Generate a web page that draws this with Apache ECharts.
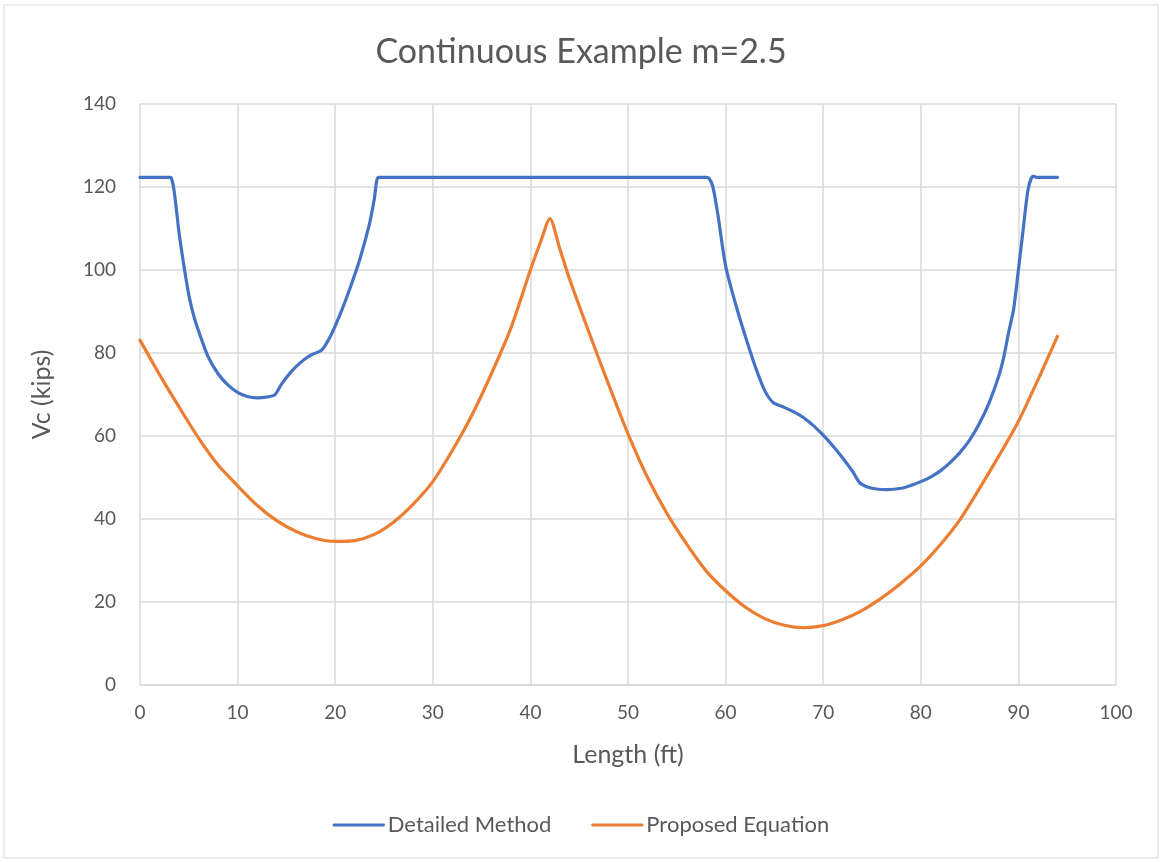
<!DOCTYPE html>
<html>
<head>
    <meta http-equiv="Content-Type" content="text/html; charset=UTF-8">
    <title>Continuous Example m=2.5</title>
    <script src="https://cdn.jsdelivr.net/npm/echarts@6/dist/echarts.min.js"></script>
    <style>
        html, body { margin: 0; padding: 0; background: #fff; }
    </style>
</head>
<body>
    <div id="main" style="width: 1162px;height:862px;"></div>

    <script type="text/javascript">
        // Detailed Method
        var detailedX = [0, 1, 2, 3, 3.2, 3.5, 4, 4.5, 5, 5.5, 6, 7, 8, 9, 10, 11, 12, 13, 13.8,
            14.5, 15.5, 16.5, 17.5, 18.6, 19.5, 20.5, 21.5, 22.5, 23.5, 24, 24.4, 25, 30, 40, 50, 57, 58,
            58.3, 58.7, 59.2, 60, 61, 62, 63, 64, 64.9, 66, 67, 68, 69, 70, 71, 72, 73, 73.8, 75, 76.5,
            78, 79, 80, 81, 82, 83, 84, 85, 86, 87, 88, 88.5, 89, 89.5, 90, 90.5, 91, 91.5, 92, 93, 94];
        var detailedY = [122.3, 122.3, 122.3, 122.3, 122.2, 119, 109, 101, 94, 89, 85.3, 79, 75, 72.3, 70.5, 69.5, 69.2, 69.4, 69.9,
            72.5, 75.5, 77.8, 79.5, 80.7, 84, 89.3, 95.5, 102.4, 111, 117, 122.3, 122.3, 122.3, 122.3, 122.3, 122.3, 122.3,
            122.1, 120, 113.5, 101, 92, 84.2, 77, 71, 68, 66.9, 65.8, 64.4, 62.5, 60.2, 57.6, 54.7, 51.5, 48.6, 47.4, 47.1,
            47.4, 48.1, 49, 50.1, 51.6, 53.6, 56, 59, 63, 68, 74.5, 79, 85, 90.4, 100, 110, 119.5, 122.6, 122.3, 122.3, 122.3];

        // Proposed Equation
        var proposedX = [0, 2, 4, 6, 8, 10, 12, 14, 16, 18, 20, 22, 24, 26, 28, 30, 32, 34, 36, 38, 40, 41, 42,
            43, 44, 46, 48, 50, 52, 54, 56, 58, 60, 62, 64, 66, 68, 70, 72, 74, 76, 78, 80, 82, 84, 86, 88, 90, 92, 94];
        var proposedY = [83.1, 74.8, 67, 59.5, 53, 48, 43.3, 39.6, 37, 35.3, 34.6, 34.8, 36.3, 39.3, 43.6, 49, 56.5, 65, 75, 86, 100, 106.5, 112.4,
            105.2, 97.9, 85, 72.5, 60.5, 50, 41.3, 34, 27.5, 22.7, 18.8, 16, 14.4, 13.8, 14.3, 15.8, 18, 21, 24.6, 28.7, 33.8, 39.8, 47.3, 55.2, 63.5, 73.5, 84];

        function pairs(xs, ys) {
            return xs.map(function (x, i) { return [x, ys[i]]; });
        }

        var font = 'Lato, "Open Sans", sans-serif';
        var grey = '#595959';
        var gridCol = '#d9d9d9';

        var myChart = echarts.init(document.getElementById('main'));
        myChart.setOption({
            animation: false,
            textStyle: { fontFamily: font },
            title: {
                text: 'Continuous Example m=2.5',
                left: 'center',
                top: 30,
                textStyle: { fontSize: 34, fontWeight: 'normal', color: grey, fontFamily: font }
            },
            graphic: [{
                type: 'rect',
                shape: { x: 4, y: 5, width: 1154, height: 853 },
                style: { fill: 'none', stroke: gridCol, lineWidth: 1 },
                silent: true
            }],
            legend: {
                bottom: 21,
                left: 'center',
                itemWidth: 52,
                itemHeight: 3,
                itemGap: 40,
                icon: 'roundRect',
                textStyle: { fontSize: 22, color: grey, fontFamily: font, padding: [0, 0, 0, -2] },
                data: ['Detailed Method', 'Proposed Equation']
            },
            grid: { left: 140, right: 46, top: 104, bottom: 177 },
            xAxis: {
                type: 'value',
                min: 0, max: 100, interval: 10,
                name: 'Length (ft)',
                nameLocation: 'middle',
                nameGap: 57,
                nameTextStyle: { fontSize: 25, color: grey },
                axisLine: { show: true, lineStyle: { color: gridCol, width: 1.5 } },
                axisTick: { show: false },
                axisLabel: { fontSize: 19, color: grey, margin: 18 },
                splitLine: { show: true, lineStyle: { color: gridCol, width: 1.5 } }
            },
            yAxis: {
                type: 'value',
                min: 0, max: 140, interval: 20,
                name: 'Vc (kips)',
                nameLocation: 'middle',
                nameGap: 86,
                nameTextStyle: { fontSize: 25, color: grey },
                axisLine: { show: false },
                axisTick: { show: false },
                axisLabel: { fontSize: 19, color: grey, margin: 24 },
                splitLine: { show: true, lineStyle: { color: gridCol, width: 1.5 } }
            },
            series: [{
                name: 'Detailed Method',
                type: 'line',
                data: pairs(detailedX, detailedY),
                smooth: 0.25,
                showSymbol: false,
                lineStyle: { color: '#4472C4', width: 3.2, join: 'round', cap: 'round' },
                itemStyle: { color: '#4472C4' }
            }, {
                name: 'Proposed Equation',
                type: 'line',
                data: pairs(proposedX, proposedY),
                smooth: 0.25,
                showSymbol: false,
                lineStyle: { color: '#ED7D31', width: 3.2, join: 'round', cap: 'round' },
                itemStyle: { color: '#ED7D31' }
            }]
        });
    </script>
</body>
</html>
